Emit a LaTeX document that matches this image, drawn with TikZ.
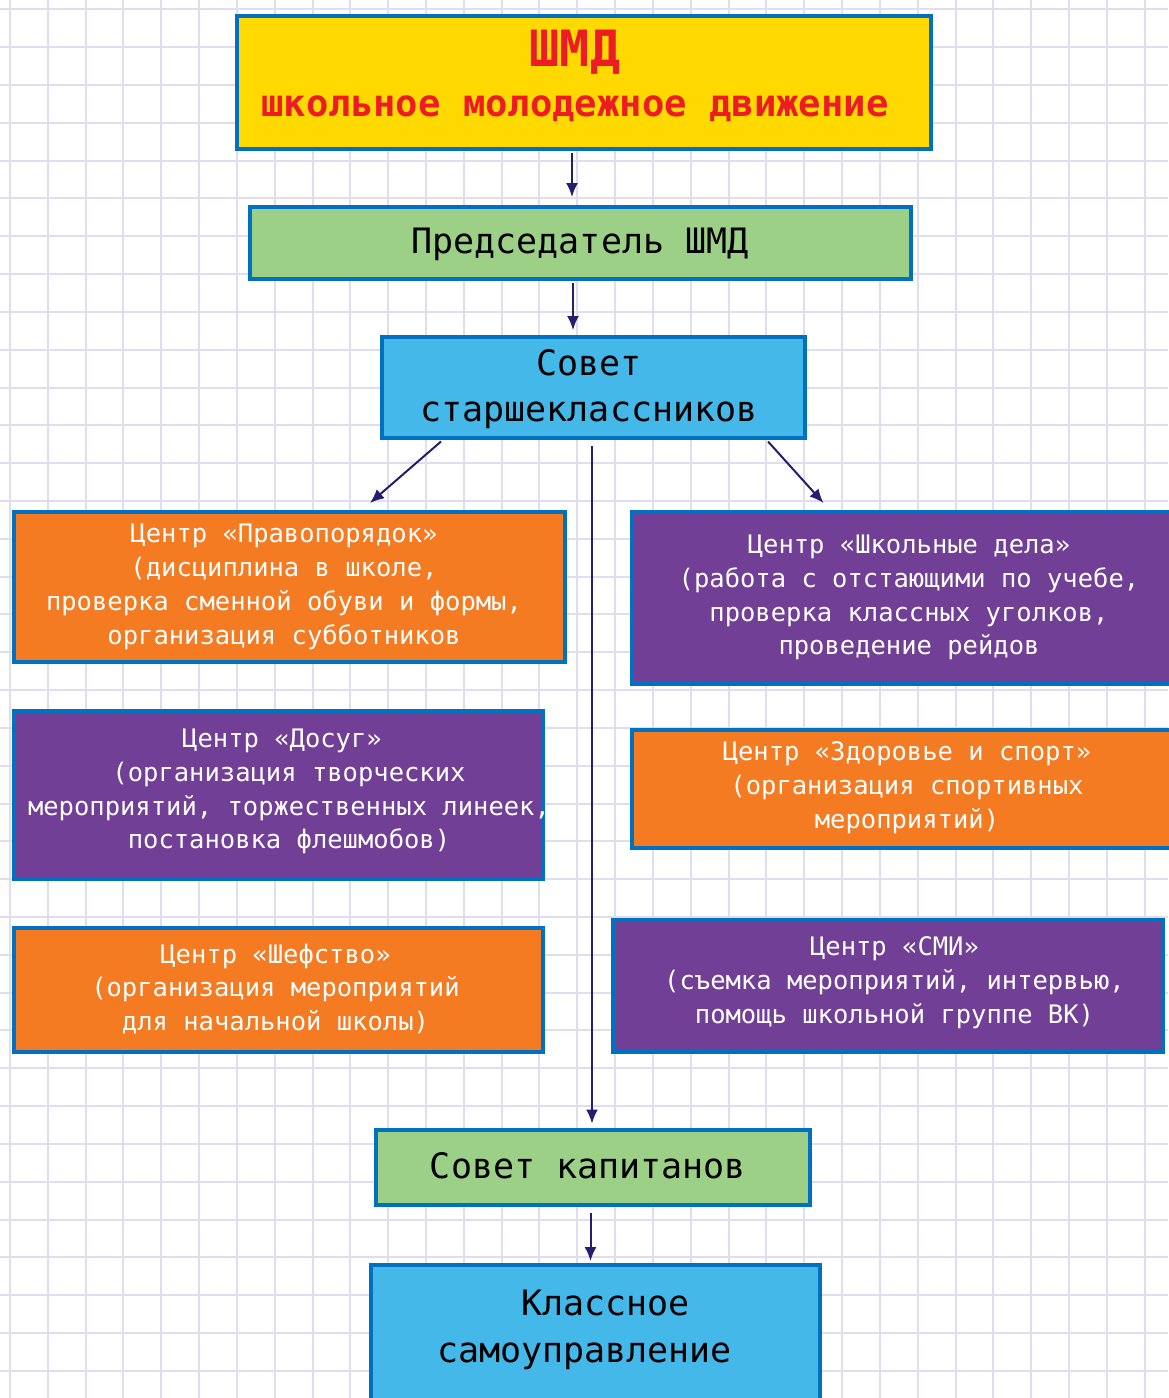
\documentclass[tikz,border=0pt]{standalone}
\usepackage{fontspec}
\newfontfamily\mono{DejaVu Sans Mono}
\usetikzlibrary{arrows.meta,calc}
\definecolor{gridc}{RGB}{224,222,238}
\definecolor{bord}{RGB}{0,112,192}
\definecolor{yel}{RGB}{255,217,0}
\definecolor{redt}{RGB}{237,28,36}
\definecolor{grn}{RGB}{157,208,135}
\definecolor{sky}{RGB}{67,184,233}
\definecolor{org}{RGB}{244,123,34}
\definecolor{pur}{RGB}{114,63,151}
\definecolor{arrc}{RGB}{35,31,110}
\begin{document}
\begin{tikzpicture}[x=1pt,y=-1pt,
 box/.style={draw=bord, line width=4pt, rectangle, inner sep=0pt},
 ctext/.style={text=white, align=center, font=\mono\fontsize{25.5}{33.8}\selectfont, inner sep=0pt},
 btext/.style={text=black, align=center, font=\mono\fontsize{35}{46.7}\selectfont, inner sep=0pt},
 ttext/.style={text=redt, inner sep=0pt, anchor=base},
 conn/.style={draw=arrc, line width=2pt, -{Latex[length=14pt,width=12pt]}}
]
\useasboundingbox (0,0) rectangle (1168,1398);
\fill[white] (0,0) rectangle (1168,1398);
\foreach \k in {0,...,30} \draw[gridc, line width=2pt] ({10+37.82*\k},0) -- ({10+37.82*\k},1398);
\foreach \k in {0,...,36} \draw[gridc, line width=2pt] (0,{9.3+37.82*\k}) -- (1168,{9.3+37.82*\k});

% boxes
\node[box, fill=yel, minimum width=694pt, minimum height=133pt] (b1) at (584,82.5) {};
\node[box, fill=grn, minimum width=661pt, minimum height=72pt] (b2) at (580.5,243) {};
\node[box, fill=sky, minimum width=423pt, minimum height=101pt] (b3) at (593.5,387.5) {};
\node[box, fill=org, minimum width=551pt, minimum height=150pt] (b4) at (289.5,587) {};
\node[box, fill=pur, minimum width=566pt, minimum height=172pt] (b5) at (915,598) {};
\node[box, fill=pur, minimum width=529pt, minimum height=168pt] (b6) at (278.5,795) {};
\node[box, fill=org, minimum width=566pt, minimum height=118pt] (b7) at (915,789) {};
\node[box, fill=org, minimum width=529pt, minimum height=124pt] (b8) at (278.5,990) {};
\node[box, fill=pur, minimum width=550pt, minimum height=132pt] (b9) at (888,986) {};
\node[box, fill=grn, minimum width=434pt, minimum height=75pt] (b10) at (593,1167.5) {};
\node[box, fill=sky, minimum width=449pt, minimum height=153pt] (b11) at (595.5,1341.5) {};

% texts
\node[ttext, font=\mono\bfseries\fontsize{50}{54}\selectfont] (t1a) at (575,66) {ШМД};
\node[ttext, font=\mono\bfseries\fontsize{37.2}{40}\selectfont] (t1b) at (575,116) {школьное молодежное движение};
\node[btext, anchor=base] (t2) at (580,253.3) {Председатель ШМД};
\node[btext] (t3) at (589,389) {Совет\\старшеклассников};
\node[ctext] (t4) at (284,587) {Центр «Правопорядок»\\(дисциплина в школе,\\проверка сменной обуви и формы,\\организация субботников};
\node[ctext] (t5) at (909,597.5) {Центр «Школьные дела»\\(работа с отстающими по учебе,\\проверка классных уголков,\\проведение рейдов};
\node[ctext] (t6) at (289,791.6) {Центр «Досуг»\hspace*{14pt}\\(организация творческих\\мероприятий, торжественных линеек,\\постановка флешмобов)};
\node[ctext] (t7) at (907,787.8) {Центр «Здоровье и спорт»\\(организация спортивных\\мероприятий)};
\node[ctext] (t8) at (275.5,989) {Центр «Шефство»\\(организация мероприятий\\для начальной школы)};
\node[ctext] (t9) at (894.5,982.5) {Центр «СМИ»\\(съемка мероприятий, интервью,\\помощь школьной группе ВК)};
\node[btext, anchor=base] (t10) at (588,1178) {Совет капитанов};
\node[btext] (t11) at (584.5,1329.7) {\hspace*{42pt}Классное\\самоуправление};

% connectors
\draw[conn] ($(b1.south)+(-12,2)$) -- ($(b2.north)+(-8.5,-8)$);
\draw[conn] ($(b2.south)+(-7.5,2)$) -- ($(b3.north)+(-20.5,-5)$);
\draw[conn] ($(b3.south)+(-152.5,1.5)$) -- ($(b4.north)+(80.5,-7)$);
\draw[conn] ($(b3.south)+(174.5,1.5)$) -- ($(b5.north)+(-91.5,-7)$);
\draw[conn] ($(b3.south)+(-1.5,5.5)$) -- ($(b10.north)+(-1,-4.5)$);
\draw[conn] ($(b10.south)+(-2.5,5.5)$) -- ($(b11.north)+(-5,-2)$);
\end{tikzpicture}
\end{document}
